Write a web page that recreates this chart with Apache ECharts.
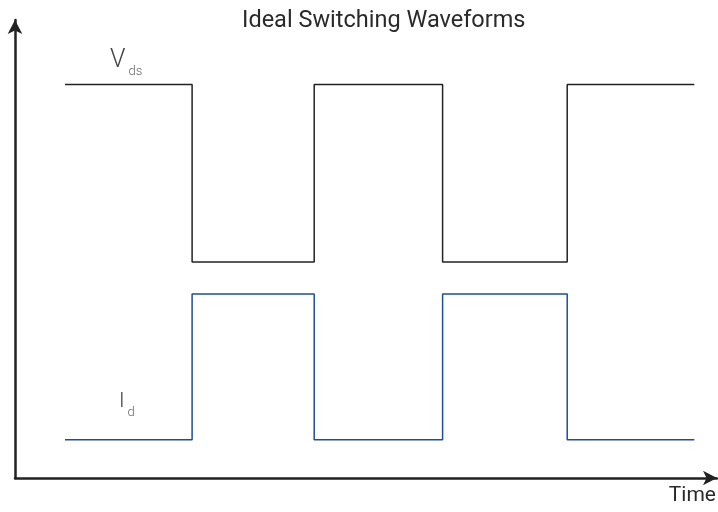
<!DOCTYPE html>
<html><head><meta charset="utf-8">
<script src="https://cdn.jsdelivr.net/npm/echarts@6/dist/echarts.min.js"></script>
<style>html,body{margin:0;padding:0;background:#fff}#c{width:718px;height:512px}</style>
</head><body><div id="c"></div>
<script>
// Time instants of the switching edges
const times = [0, 1.01, 1.98, 3.0, 3.99, 5];
// Levels (arbitrary units)
const vdsLevels = [10.31, 5.66, 10.31, 5.66, 10.31, 10.31];
const idLevels = [1.0, 4.82, 1.0, 4.82, 1.0, 1.0];
const title = 'Ideal Switching Waveforms';
const xName = 'Time';

function stepPts(levels) {
  const pts = [];
  for (let i = 0; i < times.length; i++) {
    if (i > 0 && levels[i] !== levels[i - 1]) pts.push([times[i], levels[i - 1]]);
    pts.push([times[i], levels[i]]);
  }
  return pts;
}

const chart = echarts.init(document.getElementById('c'));
const ff = 'Roboto, "Liberation Sans", sans-serif';
chart.setOption({
  animation: false,
  backgroundColor: '#fff',
  title: { text: title, left: 237, top: 4, textStyle: { fontFamily: ff, fontSize: 23.5, fontWeight: 'normal', color: '#2a2a2a' } },
  grid: { left: 15, right: 1, top: 20, bottom: 34, containLabel: false },
  xAxis: {
    type: 'value', min: -0.397, max: 5.18,
    axisLine: { show: true, onZero: false, symbol: ['none', 'arrow'], symbolSize: [11, 14], lineStyle: { color: '#222', width: 2.5 } },
    axisTick: { show: false }, axisLabel: { show: false }, splitLine: { show: false }
  },
  yAxis: {
    type: 'value', min: 0, max: 12,
    axisLine: { show: true, onZero: false, symbol: ['none', 'arrow'], symbolSize: [11, 14], lineStyle: { color: '#222', width: 2.5 } },
    axisTick: { show: false }, axisLabel: { show: false }, splitLine: { show: false }
  },
  series: [
    { name: 'Vds', type: 'line', data: stepPts(vdsLevels), showSymbol: false, lineStyle: { color: '#222', width: 1.5 } },
    { name: 'Id', type: 'line', data: stepPts(idLevels), showSymbol: false, lineStyle: { color: '#1f4f8f', width: 1.5 } }
  ],
  graphic: [
    { type: 'text', left: 110, top: 48, style: { text: '{m|V}{s|ds}', rich: { m: { fontFamily: ff, fontSize: 25, fill: '#444', fontWeight: 300 }, s: { fontFamily: ff, fontSize: 13, fill: '#666', fontWeight: 300, padding: [22, 0, 0, 3] } } } },
    { type: 'text', left: 119, top: 391, style: { text: '{m|I}{s|d}', rich: { m: { fontFamily: ff, fontSize: 21, fill: '#444', fontWeight: 300 }, s: { fontFamily: ff, fontSize: 13, fill: '#666', fontWeight: 300, padding: [22, 0, 0, 3] } } } },
    { type: 'text', right: 2, top: 485, style: { text: xName, fontFamily: ff, fontSize: 21, fill: '#2a2a2a' } }
  ]
});
</script></body></html>
